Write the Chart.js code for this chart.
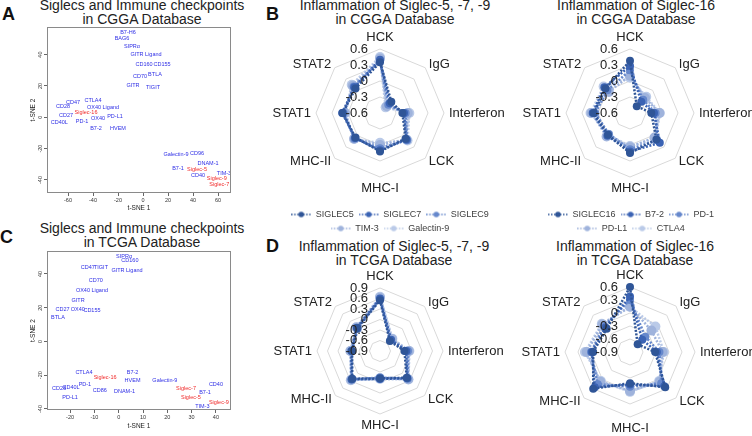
<!DOCTYPE html>
<html lang="en">
<head>
<meta charset="utf-8">
<title>Siglecs and immune checkpoints</title>
<script src="https://cdn.jsdelivr.net/npm/chart.js@4.4.1/dist/chart.umd.min.js"></script>
<style>
  html, body { margin: 0; padding: 0; background: #fff; }
  body { position: relative; width: 752px; height: 436px; overflow: hidden;
         font-family: "Liberation Sans", Arial, Helvetica, sans-serif; color: #222; }
  .panel { position: absolute; }
  .head { position: absolute; width: 320px; font-size: 14px; line-height: 13.5px;
          text-align: center; white-space: nowrap; color: #222; }
  .tag { position: absolute; font-size: 18px; font-weight: bold; line-height: 18px; color: #111; }
</style>
</head>
<body>
  <div class="tag" style="left:2px;top:5px">A</div>
  <div class="tag" style="left:266px;top:5px">B</div>
  <div class="tag" style="left:0px;top:228px">C</div>
  <div class="tag" style="left:266px;top:237px">D</div>

  <div class="head" style="left:-18px;top:-1px">Siglecs and Immune checkpoints<br>in CGGA Database</div>
  <div class="head" style="left:-18px;top:222px">Siglecs and Immune checkpoints<br>in TCGA Database</div>
  <div class="head" style="left:235px;top:-1px">Inflammation of Siglec-5, -7, -9<br>in CGGA Database</div>
  <div class="head" style="left:476px;top:-1px">Inflammation of Siglec-16<br>in CGGA Database</div>
  <div class="head" style="left:234px;top:240px">Inflammation of Siglec-5, -7, -9<br>in TCGA Database</div>
  <div class="head" style="left:475px;top:240px">Inflammation of Siglec-16<br>in TCGA Database</div>

  <div class="panel" style="left:0;top:0;width:240px;height:215px"><canvas id="cggaMap"></canvas></div>
  <div class="panel" style="left:0;top:215px;width:240px;height:221px"><canvas id="tcgaMap"></canvas></div>
  <div class="panel" style="left:265px;top:236px;width:250px;height:200px"><canvas id="tcga579"></canvas></div>
  <div class="panel" style="left:510px;top:236px;width:242px;height:200px"><canvas id="tcga16"></canvas></div>
  <div class="panel" style="left:265px;top:0;width:250px;height:243px"><canvas id="cgga579"></canvas></div>
  <div class="panel" style="left:510px;top:0;width:242px;height:243px"><canvas id="cgga16"></canvas></div>

<script>
// ---- t-SNE maps: label positions ----
const cggaCheckNames = ['B7-H6', 'BAG6', 'SIPRα', 'GITR Ligand', 'CD160', 'CD155', 'CD70', 'BTLA', 'GITR', 'TIGIT',
  'CD47', 'CTLA4', 'CD28', 'OX40 Ligand', 'CD27', 'PD-L1', 'OX40', 'PD-1', 'CD40L', 'B7-2', 'HVEM',
  'Galectin-9', 'CD96', 'DNAM-1', 'B7-1', 'TIM-3', 'CD40'];
const cggaCheckX = [-12, -16.8, -8.8, 2.4, 0.8, 15.2, -2.4, 9.6, -8, 8,
  -56, -40, -64, -32, -61.6, -22.4, -36, -48.8, -67, -37.6, -20,
  26.4, 43.2, 52, 28, 64.8, 44];
const cggaCheckY = [53.8, 50, 45.4, 40.3, 33.9, 33.9, 26.2, 27.5, 20.5, 19.2,
  9.6, 10.9, 7, 6.4, 1.3, 0.6, -0.6, -2.6, -3.2, -7, -7,
  -23.7, -23, -29.4, -32.6, -35.8, -37];
const cggaSiglecNames = ['Siglec-16', 'Siglec-5', 'Siglec-9', 'Siglec-7'];
const cggaSiglecX = [-45.6, 43.2, 59, 61];
const cggaSiglecY = [3.2, -33.3, -39, -43];
const cggaXTicks = [-60, -40, -20, 0, 20, 40, 60];
const cggaYTicks = [-40, -20, 0, 20, 40];
const cggaXRange = [-76.8, 70.4];
const cggaYRange = [-48.3, 57.6];

const tcgaCheckNames = ['SIPRα', 'CD160', 'CD47', 'TIGIT', 'GITR Ligand', 'CD70', 'OX40 Ligand', 'GITR', 'CD27', 'OX40',
  'CD155', 'BTLA', 'CTLA4', 'B7-2', 'HVEM', 'Galectin-9', 'PD-1', 'CD40L', 'CD28', 'CD86', 'DNAM-1',
  'PD-L1', 'CD40', 'B7-1', 'TIM-3'];
const tcgaCheckX = [2.2, 4.6, -12.7, -7.3, 3.4, -9.4, -11, -16.7, -23.1, -16.8,
  -11, -25, -14.3, 5.7, 5.7, 19, -13.9, -19.6, -24.5, -7.8, 2.4,
  -20, 40, 35.5, 34.4];
const tcgaCheckY = [50.1, 47.7, 44.1, 44.1, 41.8, 36.4, 30.5, 24, 18.7, 18.7,
  18.1, 14.5, -18.1, -18.1, -23.4, -23.4, -25.2, -27, -27.6, -29.3, -29.9,
  -32.9, -25.7, -30.5, -38.8];
const tcgaSiglecNames = ['Siglec-16', 'Siglec-7', 'Siglec-5', 'Siglec-9'];
const tcgaSiglecX = [-5.6, 27.7, 29.7, 41.2];
const tcgaSiglecY = [-21.6, -27.6, -32.9, -35.9];
const tcgaXTicks = [-20, -10, 0, 10, 20, 30, 40];
const tcgaYTicks = [-40, -20, 0, 20, 40];
const tcgaXRange = [-29.5, 46.2];
const tcgaYRange = [-40.6, 53.6];

// ---- radar charts (correlation with inflammation genes) ----
const radarAxes = ['HCK', 'IgG', 'Interferon', 'LCK', 'MHC-I', 'MHC-II', 'STAT1', 'STAT2'];
const group579 = ['SIGLEC5', 'SIGLEC7', 'SIGLEC9', 'TIM-3', 'Galectin-9'];
const group16 = ['SIGLEC16', 'B7-2', 'PD-1', 'PD-L1', 'CTLA4'];

const cggaSIGLEC5 = [0.35, -0.30, -0.18, 0.08, 0.12, 0.05, 0.10, 0.05];
const cggaSIGLEC7 = [0.40, -0.34, -0.15, 0.10, 0.10, 0.06, 0.11, 0.08];
const cggaSIGLEC9 = [0.38, -0.38, -0.12, 0.12, 0.06, 0.08, 0.08, 0.10];
const cggaTIM3 = [0.42, -0.42, -0.08, 0.10, 0.00, 0.08, 0.06, 0.12];
const cggaGal9 = [0.45, -0.45, -0.05, 0.13, -0.04, 0.09, 0.05, 0.15];

const cggaSIGLEC16 = [0.38, -0.42, -0.20, 0.10, 0.15, -0.02, 0.08, 0.05];
const cggaB72 = [0.28, -0.30, -0.15, 0.19, 0.12, 0.00, 0.10, 0.08];
const cggaPD1 = [0.20, -0.25, -0.12, 0.12, 0.08, -0.04, 0.05, 0.00];
const cggaPDL1 = [0.10, -0.20, -0.05, 0.05, 0.04, 0.02, 0.12, -0.04];
const cggaCTLA4 = [0.06, -0.17, -0.04, 0.08, 0.02, -0.02, 0.14, 0.10];

const tcgaSIGLEC5 = [0.55, -0.50, -0.20, 0.18, -0.12, 0.22, -0.10, 0.02];
const tcgaSIGLEC7 = [0.60, -0.45, -0.15, 0.20, -0.10, 0.25, -0.08, 0.04];
const tcgaSIGLEC9 = [0.58, -0.48, -0.10, 0.22, -0.14, 0.24, -0.10, 0.00];
const tcgaTIM3 = [0.62, -0.42, -0.08, 0.24, -0.12, 0.26, -0.06, 0.05];
const tcgaGal9 = [0.65, -0.40, -0.06, 0.25, -0.10, 0.28, -0.05, 0.06];

const tcgaSIGLEC16 = [0.60, -0.65, -0.32, 0.25, -0.18, 0.30, -0.05, -0.14];
const tcgaB72 = [0.38, -0.50, -0.28, 0.22, -0.15, 0.25, -0.02, -0.10];
const tcgaPD1 = [0.30, -0.40, -0.22, 0.12, -0.10, 0.15, 0.00, -0.05];
const tcgaPDL1 = [0.15, -0.20, -0.15, 0.07, 0.00, 0.07, 0.10, 0.00];
const tcgaCTLA4 = [0.14, -0.07, -0.12, 0.05, 0.02, 0.05, 0.14, 0.02];

const cggaRadarTicks = [-0.6, -0.3, 0, 0.3, 0.6];
const tcga579Ticks = [-0.9, -0.6, -0.3, 0, 0.3, 0.6, 0.9];
const tcga16Ticks = [-0.9, -0.6, -0.3, 0, 0.3, 0.6];

// ---- common look ----
const FAMILY = '"Liberation Sans", Arial, Helvetica, sans-serif';
Chart.defaults.font.family = FAMILY;
Chart.defaults.color = '#333';
Chart.defaults.animation = false;
const blueShades = ['#2F5597', '#3B63B4', '#6688CC', '#9FB3DC', '#BACAE8'];

// draws the gene names at their t-SNE positions, the frame and rotated y ticks
const mapLabels = {
  id: 'mapLabels',
  afterDatasetsDraw(chart) {
    const { ctx, chartArea: a, scales: { y } } = chart;
    ctx.save();
    ctx.textAlign = 'center';
    ctx.textBaseline = 'middle';
    ctx.font = '5.5px ' + FAMILY;
    chart.data.datasets.forEach((ds, di) => {
      ctx.fillStyle = ds.textColor;
      chart.getDatasetMeta(di).data.forEach((pt, i) => ctx.fillText(ds.names[i], pt.x, pt.y));
    });
    ctx.strokeStyle = '#8a8a8a';
    ctx.lineWidth = 1;
    ctx.strokeRect(a.left + 0.5, a.top + 0.5, a.right - a.left - 1, a.bottom - a.top - 1);
    ctx.fillStyle = '#333';
    y.ticks.forEach(t => {
      ctx.save();
      ctx.translate(a.left - 7, y.getPixelForValue(t.value));
      ctx.rotate(-Math.PI / 2);
      ctx.fillText(String(t.value), 0, 0);
      ctx.restore();
    });
    ctx.restore();
  }
};

function mapChart(id, groups, xRange, yRange, xTicks, yTicks, pad) {
  return new Chart(document.getElementById(id), {
    type: 'scatter',
    data: {
      datasets: groups.map(g => ({
        names: g.names,
        textColor: g.color,
        data: g.names.map((n, i) => ({ x: g.x[i], y: g.y[i] })),
        pointRadius: 0,
        pointHoverRadius: 0
      }))
    },
    options: {
      responsive: true,
      maintainAspectRatio: false,
      layout: { padding: pad },
      plugins: { legend: { display: false }, tooltip: { enabled: false } },
      scales: {
        x: {
          type: 'linear', min: xRange[0], max: xRange[1],
          afterBuildTicks: s => { s.ticks = xTicks.map(v => ({ value: v })); },
          ticks: { font: { size: 5.5 }, color: '#333', padding: 1, maxRotation: 0 },
          grid: { drawOnChartArea: false, tickLength: 3, color: '#666' },
          border: { display: false },
          title: { display: true, text: 't-SNE 1', font: { size: 6.5 }, color: '#222', padding: { top: 0, bottom: 2 } },
          afterFit: s => { s.height = pad.xh; }
        },
        y: {
          type: 'linear', min: yRange[0], max: yRange[1],
          afterBuildTicks: s => { s.ticks = yTicks.map(v => ({ value: v })); },
          ticks: { display: false },
          grid: { drawOnChartArea: false, tickLength: 3, color: '#666' },
          border: { display: false },
          title: { display: true, text: 't-SNE 2', font: { size: 6.5 }, color: '#222', padding: { top: 2, bottom: 0 } },
          afterFit: s => { s.width = 20; }
        }
      }
    },
    plugins: [mapLabels]
  });
}

mapChart('cggaMap', [
  { names: cggaCheckNames, x: cggaCheckX, y: cggaCheckY, color: '#2E2EE6' },
  { names: cggaSiglecNames, x: cggaSiglecX, y: cggaSiglecY, color: '#F02828' }
], cggaXRange, cggaYRange, cggaXTicks, cggaYTicks, { left: 27, right: 9, top: 27, bottom: 1, xh: 21 });

mapChart('tcgaMap', [
  { names: tcgaCheckNames, x: tcgaCheckX, y: tcgaCheckY, color: '#2E2EE6' },
  { names: tcgaSiglecNames, x: tcgaSiglecX, y: tcgaSiglecY, color: '#F02828' }
], tcgaXRange, tcgaYRange, tcgaXTicks, tcgaYTicks, { left: 27, right: 9, top: 36, bottom: 4, xh: 22 });

// axis names around the web and value ticks along the HCK spoke
const radarText = {
  id: 'radarText',
  afterDraw(chart) {
    const r = chart.scales.r;
    const ctx = chart.ctx;
    ctx.save();
    ctx.font = '13px ' + FAMILY;
    ctx.fillStyle = '#222';
    chart.data.labels.forEach((name, i) => {
      const p = r.getPointPosition(i, r.drawingArea + 5);
      const dx = p.x - r.xCenter;
      ctx.textAlign = Math.abs(dx) < 1 ? 'center' : (dx > 0 ? 'left' : 'right');
      ctx.textBaseline = Math.abs(dx) >= 1 ? 'middle' : (p.y < r.yCenter ? 'bottom' : 'top');
      ctx.fillText(name, p.x, p.y);
    });
    ctx.textAlign = 'right';
    ctx.textBaseline = 'middle';
    r.ticks.forEach(t => {
      ctx.fillText(String(+t.value.toFixed(1)), r.xCenter - 12, r.yCenter - r.getDistanceFromCenterForValue(t.value));
    });
    ctx.restore();
  }
};

function legendIcon(color) {
  const c = document.createElement('canvas');
  c.width = 20; c.height = 8;
  const g = c.getContext('2d');
  g.strokeStyle = color; g.lineWidth = 1.5; g.setLineDash([1.5, 1.5]);
  g.beginPath(); g.moveTo(0, 4); g.lineTo(20, 4); g.stroke();
  g.fillStyle = color;
  g.beginPath(); g.arc(10, 4, 2.8, 0, Math.PI * 2); g.fill();
  return c;
}

function radarChart(id, names, series, ticks, geo, legendPad) {
  return new Chart(document.getElementById(id), {
    type: 'radar',
    data: {
      labels: radarAxes,
      datasets: series.map((vals, i) => ({
        label: names[i],
        data: vals,
        borderColor: blueShades[i],
        backgroundColor: blueShades[i],
        pointBackgroundColor: blueShades[i],
        pointBorderWidth: 0,
        pointRadius: i > 2 ? 5 : 4,
        borderWidth: 2.5,
        borderDash: [2, 1.6],
        fill: false,
        clip: false
      }))
    },
    options: {
      responsive: true,
      maintainAspectRatio: false,
      // side padding only decides where the legend wraps
      layout: { padding: { left: legendPad || 5, right: legendPad || 5, top: 0, bottom: 0 } },
      plugins: {
        tooltip: { enabled: false },
        legend: legendPad ? {
          position: 'bottom',
          labels: {
            usePointStyle: true, pointStyleWidth: 20, boxHeight: 8, padding: 5,
            color: '#404040', font: { size: 9 },
            generateLabels: chart => Chart.defaults.plugins.legend.labels.generateLabels(chart)
              .map((item, i) => Object.assign(item, { pointStyle: legendIcon(blueShades[i]) }))
          }
        } : { display: false }
      },
      scales: {
        r: {
          min: ticks[0], max: ticks[ticks.length - 1],
          afterBuildTicks: s => { s.ticks = ticks.map(v => ({ value: v })); },
          ticks: { display: false },
          pointLabels: { display: false },
          grid: { circular: false, color: '#d9d9d9', lineWidth: 1 },
          angleLines: { display: false },
          afterFit: s => { s.xCenter = geo.cx; s.yCenter = geo.cy; s.drawingArea = geo.r; }
        }
      }
    },
    plugins: [radarText]
  });
}

radarChart('cgga579', group579, [cggaSIGLEC5, cggaSIGLEC7, cggaSIGLEC9, cggaTIM3, cggaGal9],
  cggaRadarTicks, { cx: 115, cy: 113, r: 64 }, 5);
radarChart('cgga16', group16, [cggaSIGLEC16, cggaB72, cggaPD1, cggaPDL1, cggaCTLA4],
  cggaRadarTicks, { cx: 120, cy: 113, r: 64 }, 22);
radarChart('tcga579', group579, [tcgaSIGLEC5, tcgaSIGLEC7, tcgaSIGLEC9, tcgaTIM3, tcgaGal9],
  tcga579Ticks, { cx: 115, cy: 115, r: 63 }, 0);
radarChart('tcga16', group16, [tcgaSIGLEC16, tcgaB72, tcgaPD1, tcgaPDL1, tcgaCTLA4],
  tcga16Ticks, { cx: 120, cy: 116, r: 65 }, 0);
</script>
</body>
</html>
